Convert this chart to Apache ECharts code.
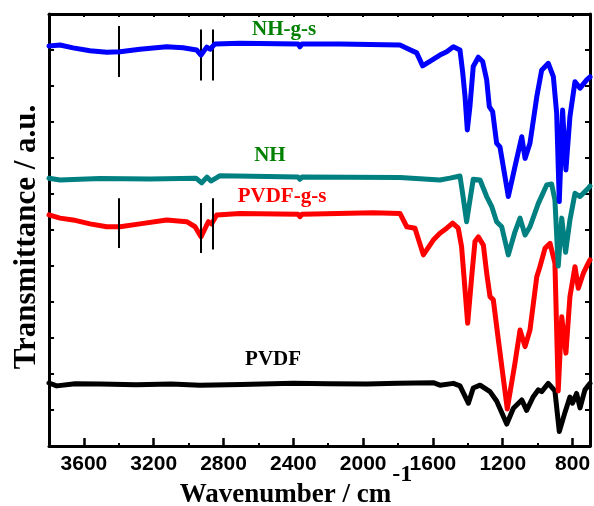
<!DOCTYPE html>
<html><head><meta charset="utf-8">
<script src="https://cdn.jsdelivr.net/npm/echarts@6/dist/echarts.min.js"></script>
<style>html,body{margin:0;padding:0;background:#fff}#c{width:594px;height:506px}</style>
</head><body><div id="c"></div>
<script>
// ---- data ----
const xTicks = [800, 1200, 1600, 2000, 2400, 2800, 3200, 3600];
const xMinorTicks = [1000, 1400, 1800, 2200, 2600, 3000, 3400];

const pvdfWn = [3800,3756,3650,3508,3300,3100,2935,2700,2400,2200,1980,1800,1598,1560,1483,1445,1397,1369,1330,1273,1235,1177,1139,1091,1063,1025,996,977,939,901,876,843,815,800,777,757,729,700];
const pvdfT  = [1.75,1.67,1.73,1.72,1.70,1.72,1.69,1.71,1.74,1.73,1.72,1.74,1.76,1.69,1.74,1.67,1.19,1.61,1.69,1.51,1.25,0.61,1.05,1.28,0.99,1.37,1.56,1.51,1.74,1.53,0.40,0.94,1.36,1.19,1.46,1.06,1.56,1.74];

const pvdfgsWn = [3800,3737,3662,3565,3469,3393,3279,3126,3011,2963,2929,2887,2868,2839,2706,2373,2362,2350,1943,1789,1750,1703,1655,1598,1560,1521,1487,1455,1436,1422,1401,1378,1359,1340,1311,1292,1273,1254,1225,1174,1130,1101,1072,1044,1005,987,958,929,901,882,862,838,815,786,767,738,710,700];
const pvdfgsT  = [6.42,6.33,6.28,6.17,6.09,6.09,6.17,6.28,6.23,6.09,5.81,6.23,6.17,6.42,6.46,6.44,6.37,6.44,6.48,6.46,6.09,6.05,5.31,5.72,5.91,6.05,6.19,6.05,5.54,4.70,3.41,4.70,5.68,5.81,5.58,4.80,4.15,4.06,2.94,1.03,2.30,3.22,2.76,3.22,4.70,4.98,5.49,5.63,5.08,1.53,3.59,2.58,4.15,4.98,4.38,4.80,5.08,5.17];

const nhWn = [3800,3737,3508,3221,2958,2925,2895,2872,2820,2373,2362,2350,1789,1560,1502,1445,1430,1407,1388,1369,1330,1292,1263,1235,1206,1168,1130,1101,1072,1044,996,948,920,901,882,862,840,815,786,757,710,700];
const nhT  = [7.44,7.39,7.43,7.42,7.44,7.31,7.47,7.36,7.51,7.47,7.41,7.47,7.46,7.39,7.44,7.50,7.02,6.23,6.83,7.41,7.39,6.93,6.65,6.23,6.09,5.31,5.95,6.33,5.86,6.09,6.74,7.25,7.28,6.83,5.00,6.33,5.38,6.28,7.02,6.93,7.16,7.22];

const nhgsWn = [3800,3737,3662,3565,3469,3393,3279,3126,3032,2954,2929,2896,2877,2849,2706,2373,2362,2350,2133,1789,1750,1693,1659,1560,1521,1483,1445,1430,1416,1403,1388,1369,1340,1315,1292,1277,1258,1235,1216,1168,1130,1091,1072,1044,1005,977,939,910,891,876,857,838,815,786,757,719,700];
const nhgsT  = [11.11,11.14,11.06,10.98,10.94,10.95,11.02,11.09,11.06,11.00,10.86,11.08,11.02,11.17,11.19,11.17,11.09,11.17,11.17,11.14,11.05,10.92,10.56,10.86,10.95,11.09,11.00,10.40,9.70,8.78,9.43,10.54,10.80,10.68,10.17,9.43,9.29,8.41,8.31,6.93,7.76,8.59,7.99,8.41,9.70,10.44,10.63,10.26,9.24,6.79,9.33,7.67,9.15,10.12,9.94,10.17,10.25];

const seriesNames  = ['PVDF', 'PVDF-g-s', 'NH', 'NH-g-s'];
const seriesColors = ['#000000', '#ff0000', '#008080', '#0000ff'];
const labelColors  = ['#000000', '#ff0000', '#008000', '#008000'];
const labelWn = [2516, 2465, 2534, 2453];
const labelT  = [2.39, 6.92, 8.08, 11.58];

const markerWn = [3400, 2930, 2860];
const nhgsMarkTop = [11.67, 11.57, 11.57];
const nhgsMarkBottom = [10.25, 10.15, 10.15];
const pvdfgsMarkTop = [6.88, 6.75, 6.88];
const pvdfgsMarkBottom = [5.50, 5.36, 5.46];

// ---- build ----
const zip = (a, b) => a.map((v, i) => [v, b[i]]);
const allWn = [pvdfWn, pvdfgsWn, nhWn, nhgsWn];
const allT = [pvdfT, pvdfgsT, nhT, nhgsT];
const marks = [null, [pvdfgsMarkTop, pvdfgsMarkBottom], null, [nhgsMarkTop, nhgsMarkBottom]];

const serif = '"Liberation Serif", "Times New Roman", serif';
const sans = '"Liberation Sans", Arial, sans-serif';

const series = seriesNames.map((name, i) => {
  const s = {
    name, type: 'line', data: zip(allWn[i], allT[i]),
    showSymbol: false, symbol: 'none', smooth: false,
    lineStyle: { color: seriesColors[i], width: 5, join: 'round', cap: 'round' },
    itemStyle: { color: seriesColors[i] },
    z: 2 + i,
    markPoint: {
      symbol: 'rect', symbolSize: 1, itemStyle: { color: 'transparent' },
      silent: true,
      data: [{ coord: [labelWn[i], labelT[i]], value: name }],
      label: { show: true, position: 'inside', formatter: name, color: labelColors[i],
        fontFamily: serif, fontWeight: 'bold', fontSize: 21 }
    }
  };
  if (marks[i]) {
    s.markLine = {
      silent: true, symbol: ['none', 'none'],
      lineStyle: { color: '#000', width: 2, type: 'solid' },
      label: { show: false },
      data: markerWn.map((w, k) => [{ coord: [w, marks[i][0][k]] }, { coord: [w, marks[i][1][k]] }])
    };
  }
  return s;
});

const baseX = { type: 'value', min: 700, max: 3800, inverse: true, splitLine: { show: false }, gridIndex: 0 };
const chart = echarts.init(document.getElementById('c'), null, { renderer: 'canvas' });
chart.setOption({
  animation: false,
  backgroundColor: '#fff',
  grid: { left: 49, right: 4, top: 14, bottom: 60, containLabel: false, outerBoundsMode: 'none' },
  xAxis: [
    Object.assign({}, baseX, {
      position: 'bottom',
      axisLine: { show: true, onZero: false, lineStyle: { color: '#000', width: 3 } },
      axisTick: { show: true, inside: true, length: 8, customValues: xTicks, lineStyle: { color: '#000', width: 2.5 } },
      axisLabel: { show: true, customValues: xTicks, formatter: v => String(v), color: '#000', fontFamily: sans, fontWeight: 'bold', fontSize: 21, margin: 8 },
      name: '{t|Wavenumber / cm}{s|-1}',
      nameLocation: 'middle', nameGap: 17, nameMoveOverlap: false,
      nameTextStyle: {
        padding: [0, 47, 0, 0],
        rich: {
          t: { fontFamily: serif, fontWeight: 'bold', fontSize: 27, lineHeight: 64, color: '#000' },
          s: { fontFamily: serif, fontWeight: 'bold', fontSize: 24, lineHeight: 24, color: '#000', verticalAlign: 'top', padding: [0, 0, 0, 1] }
        }
      }
    }),
    Object.assign({}, baseX, {
      position: 'bottom',
      axisLine: { show: false, onZero: false },
      axisTick: { show: true, inside: true, length: 3, customValues: xMinorTicks, lineStyle: { color: '#000', width: 2 } },
      axisLabel: { show: false }
    }),
    Object.assign({}, baseX, {
      position: 'top',
      axisLine: { show: true, onZero: false, lineStyle: { color: '#000', width: 3 } },
      axisTick: { show: true, inside: true, length: 3, customValues: xTicks.concat(xMinorTicks), lineStyle: { color: '#000', width: 2 } },
      axisLabel: { show: false }
    })
  ],
  yAxis: [
    {
      type: 'value', min: 0, max: 12, interval: 1, position: 'left',
      splitLine: { show: false },
      axisLine: { show: true, onZero: false, lineStyle: { color: '#000', width: 3 } },
      axisTick: { show: true, inside: true, length: 5, lineStyle: { color: '#000', width: 2 } },
      axisLabel: { show: false },
      name: 'Transmittance / a.u.', nameLocation: 'middle', nameGap: 7, nameMoveOverlap: false,
      nameTextStyle: { fontFamily: serif, fontWeight: 'bold', fontSize: 31, color: '#000', padding: [0, 14, 0, 0] }
    },
    {
      type: 'value', min: 0, max: 12, interval: 1, position: 'right',
      splitLine: { show: false },
      axisLine: { show: true, onZero: false, lineStyle: { color: '#000', width: 3 } },
      axisTick: { show: true, inside: true, length: 5, lineStyle: { color: '#000', width: 2 } },
      axisLabel: { show: false }
    }
  ],
  series
});
</script></body></html>
